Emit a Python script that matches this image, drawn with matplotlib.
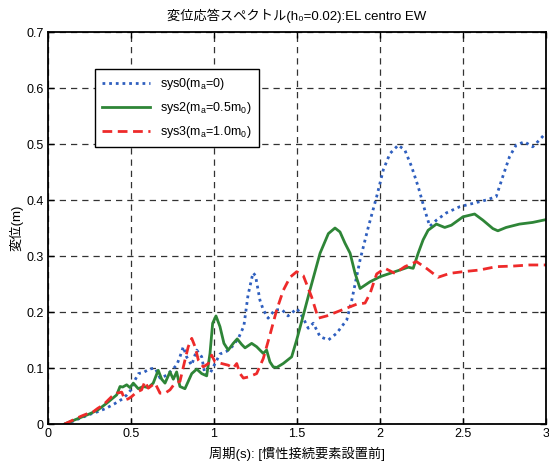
import matplotlib
matplotlib.use("Agg")
import matplotlib.pyplot as plt

plt.rcParams.update({
    "font.family": ["Liberation Sans", "Noto Sans CJK JP", "DejaVu Sans"],
    "mathtext.fontset": "custom",
    "mathtext.rm": "Liberation Sans",
    "mathtext.it": "Liberation Sans",
    "font.size": 9,
})

# sys0 (m_a = 0)
period_sys0 = [0.10, 0.15, 0.20, 0.25, 0.30, 0.35, 0.40, 0.45, 0.475, 0.50,
               0.525, 0.545, 0.575, 0.61, 0.645, 0.675, 0.715, 0.745, 0.775, 0.795,
               0.815, 0.835, 0.865, 0.896, 0.926, 0.946, 0.976, 0.996, 1.036, 1.077,
               1.116, 1.15, 1.18, 1.205, 1.235, 1.25, 1.277, 1.297, 1.326, 1.367,
               1.41, 1.446, 1.50, 1.536, 1.568, 1.598, 1.639, 1.689, 1.739, 1.80,
               1.83, 1.88, 1.93, 1.98, 2.02, 2.06, 2.11, 2.15, 2.19, 2.23,
               2.27, 2.30, 2.34, 2.40, 2.48, 2.56, 2.64, 2.70, 2.74, 2.78,
               2.82, 2.87, 2.92, 2.96, 3.00]
disp_sys0 = [0.0, 0.005, 0.011, 0.017, 0.022, 0.028, 0.036, 0.045, 0.052, 0.061,
             0.079, 0.090, 0.092, 0.098, 0.100, 0.082, 0.087, 0.096, 0.105, 0.120,
             0.138, 0.120, 0.105, 0.132, 0.120, 0.088, 0.090, 0.102, 0.125, 0.130,
             0.140, 0.155, 0.175, 0.230, 0.270, 0.265, 0.221, 0.204, 0.189, 0.204,
             0.204, 0.193, 0.206, 0.190, 0.171, 0.180, 0.156, 0.150, 0.162, 0.186,
             0.221, 0.293, 0.352, 0.406, 0.454, 0.483, 0.498, 0.489, 0.460, 0.424,
             0.382, 0.353, 0.364, 0.377, 0.388, 0.394, 0.400, 0.406, 0.442, 0.477,
             0.498, 0.504, 0.495, 0.507, 0.520]

# sys2 (m_a = 0.5 m_0)
period_sys2 = [0.10, 0.15, 0.20, 0.25, 0.30, 0.353, 0.414, 0.434, 0.45, 0.474,
               0.494, 0.514, 0.544, 0.574, 0.604, 0.634, 0.664, 0.685, 0.705, 0.735,
               0.755, 0.775, 0.795, 0.825, 0.866, 0.896, 0.926, 0.956, 0.976, 0.992,
               1.012, 1.036, 1.06, 1.086, 1.116, 1.14, 1.167, 1.187, 1.227, 1.257,
               1.297, 1.317, 1.337, 1.357, 1.378, 1.417, 1.468, 1.498, 1.528, 1.578,
               1.639, 1.689, 1.729, 1.759, 1.789, 1.82, 1.85, 1.88, 1.94, 2.00,
               2.06, 2.12, 2.17, 2.20, 2.23, 2.26, 2.29, 2.34, 2.39, 2.43,
               2.50, 2.57, 2.62, 2.68, 2.71, 2.76, 2.84, 2.92, 3.00]
disp_sys2 = [0.0, 0.006, 0.012, 0.018, 0.025, 0.037, 0.052, 0.067, 0.066, 0.070,
             0.065, 0.073, 0.063, 0.067, 0.065, 0.073, 0.096, 0.080, 0.073, 0.093,
             0.080, 0.093, 0.067, 0.063, 0.090, 0.098, 0.090, 0.086, 0.126, 0.180,
             0.193, 0.174, 0.144, 0.132, 0.144, 0.152, 0.142, 0.136, 0.144, 0.138,
             0.126, 0.132, 0.111, 0.102, 0.101, 0.108, 0.120, 0.150, 0.183, 0.239,
             0.305, 0.340, 0.350, 0.343, 0.323, 0.305, 0.269, 0.242, 0.254, 0.263,
             0.269, 0.275, 0.280, 0.278, 0.305, 0.329, 0.346, 0.357, 0.351, 0.355,
             0.370, 0.375, 0.364, 0.349, 0.345, 0.351, 0.357, 0.360, 0.365]

# sys3 (m_a = 1.0 m_0)
period_sys3 = [0.10, 0.15, 0.20, 0.25, 0.273, 0.30, 0.333, 0.36, 0.384, 0.414,
               0.444, 0.464, 0.484, 0.504, 0.534, 0.564, 0.584, 0.604, 0.645, 0.675,
               0.705, 0.735, 0.765, 0.795, 0.825, 0.845, 0.866, 0.886, 0.906, 0.936,
               0.966, 0.986, 1.006, 1.046, 1.086, 1.116, 1.137, 1.157, 1.177, 1.207,
               1.257, 1.297, 1.337, 1.378, 1.418, 1.458, 1.498, 1.538, 1.588, 1.628,
               1.679, 1.739, 1.80, 1.86, 1.91, 1.94, 1.98, 2.03, 2.09, 2.15,
               2.22, 2.28, 2.35, 2.42, 2.50, 2.60, 2.70, 2.80, 2.90, 3.00]
disp_sys3 = [0.0, 0.007, 0.014, 0.020, 0.022, 0.028, 0.034, 0.042, 0.049, 0.055,
             0.057, 0.043, 0.045, 0.049, 0.057, 0.061, 0.076, 0.064, 0.073, 0.055,
             0.055, 0.061, 0.073, 0.076, 0.114, 0.138, 0.153, 0.138, 0.114, 0.102,
             0.108, 0.123, 0.111, 0.108, 0.105, 0.100, 0.108, 0.090, 0.082, 0.084,
             0.090, 0.117, 0.159, 0.204, 0.239, 0.262, 0.272, 0.265, 0.227, 0.189,
             0.193, 0.200, 0.207, 0.214, 0.216, 0.233, 0.268, 0.278, 0.269, 0.281,
             0.290, 0.278, 0.262, 0.269, 0.272, 0.275, 0.281, 0.282, 0.284, 0.284]

x_ticks = [0, 0.5, 1, 1.5, 2, 2.5, 3]
x_ticklabels = ["0", "0.5", "1", "1.5", "2", "2.5", "3"]
y_ticks = [0, 0.1, 0.2, 0.3, 0.4, 0.5, 0.6, 0.7]
y_ticklabels = ["0", "0.1", "0.2", "0.3", "0.4", "0.5", "0.6", "0.7"]

fig = plt.figure(figsize=(5.49, 4.66), dpi=100)
ax = fig.add_axes([0.0874, 0.0901, 0.9071, 0.8412])

ax.plot(period_sys0, disp_sys0, color="#2f5fbf", linestyle=(0, (1, 1.4)),
        linewidth=2.0, label=r"sys0(m$_{\rm a}$=0)")
ax.plot(period_sys2, disp_sys2, color="#2e8537", linestyle="-",
        linewidth=2.0, label=r"sys2(m$_{\rm a}$=0.5m$_{\rm 0}$)")
ax.plot(period_sys3, disp_sys3, color="#ee2a2a", linestyle=(0, (3.5, 2)),
        linewidth=2.0, label=r"sys3(m$_{\rm a}$=1.0m$_{\rm 0}$)")

ax.set_xlim(0, 3)
ax.set_ylim(0, 0.7)
ax.set_xticks(x_ticks)
ax.set_xticklabels(x_ticklabels)
ax.set_yticks(y_ticks)
ax.set_yticklabels(y_ticklabels)
ax.tick_params(direction="in", top=True, right=True, length=4, width=1,
               labelsize=9, pad=3)
for sp in ax.spines.values():
    sp.set_linewidth(1.3)

ax.grid(True, color="0.2", linestyle=(0, (5, 4)), linewidth=0.9)

# plain text title (mathtext would drop the CJK glyphs), subscript via unicode
ax.set_title("変位応答スペクトル(h\u2080=0.02):EL centro EW", fontsize=9.5, pad=9)
ax.set_xlabel("周期(s): [慣性接続要素設置前]", fontsize=9.5, labelpad=5)
ax.set_ylabel("変位(m)", fontsize=9.5, labelpad=2)

leg = ax.legend(loc="upper left", bbox_to_anchor=(0.094, 0.905), fontsize=9,
                handlelength=3.9, borderaxespad=0, fancybox=False,
                framealpha=1, edgecolor="black", borderpad=0.55,
                labelspacing=0.65)
leg.get_frame().set_linewidth(1.0)

fig.savefig("out.png", dpi=100)
